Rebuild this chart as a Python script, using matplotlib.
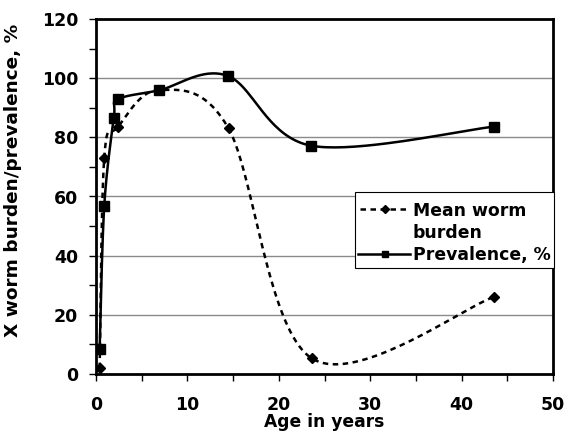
import numpy as np
import matplotlib.pyplot as plt
from matplotlib.lines import Line2D
from matplotlib.patches import Rectangle

# Values
age_burden = [0.4, 0.9, 2.4, 6.9, 14.5, 23.6, 43.5]
mean_burden = [2, 73, 83.5, 96, 83, 5.3, 26]
age_prev = [0.4, 0.9, 1.95, 2.4, 6.9, 14.4, 23.5, 43.5]
prevalence = [8.5, 56.7, 86.5, 92.8, 95.9, 100.8, 77.2, 83.6]
legend_lines = ['Mean worm', 'burden', 'Prevalence, %']

x_ticks = [0, 10, 20, 30, 40, 50]
y_ticks = [0, 20, 40, 60, 80, 100, 120]

plt.rcParams['font.family'] = ['DejaVu Sans']
plt.rcParams['font.weight'] = 'bold'

W, H = 568, 436
fig = plt.figure(figsize=(W / 100, H / 100), dpi=100)
ax = fig.add_axes([96 / W, 1 - 374 / H, 457 / W, 355 / H])
ax.set_xlim(0, 50)
ax.set_ylim(0, 120)


def smooth(xs, ys, n=40):
    # Excel-like smoothing: bezier through the points in pixel-like space
    sx, sy = 50.0 / 457, 120.0 / 355
    p = np.column_stack([np.asarray(xs) / sx, np.asarray(ys) / sy])
    p = np.vstack([p[0], p, p[-1]])
    out = []
    for i in range(1, len(p) - 2):
        p0, p1, p2, p3 = p[i - 1], p[i], p[i + 1], p[i + 2]
        c1 = p1 + (p2 - p0) / 6
        c2 = p2 - (p3 - p1) / 6
        t = np.linspace(0, 1, n)[:, None]
        seg = ((1 - t) ** 3) * p1 + 3 * ((1 - t) ** 2) * t * c1 + 3 * (1 - t) * t ** 2 * c2 + t ** 3 * p2
        out.append(seg)
    out = np.vstack(out)
    return out[:, 0] * sx, out[:, 1] * sy


bx, by = smooth(age_burden, mean_burden)
px, py = smooth(age_prev, prevalence)

for y in y_ticks[1:-1]:
    ax.axhline(y, color='#8a8a8a', lw=1, zorder=0)

dash = (0, (2.2, 1.8))
ax.plot(bx, by, color='black', lw=1.8, ls=dash, zorder=2)
ax.plot(age_burden, mean_burden, ls='none', marker='D', ms=5, color='black', zorder=3)
ax.plot(px, py, color='black', lw=1.8, zorder=2)
ax.plot(age_prev, prevalence, ls='none', marker='s', ms=7, color='black', zorder=3)

ax.set_xticks(x_ticks)
ax.set_xticks(np.arange(0, 51, 5), minor=True)
ax.set_yticks(y_ticks)
ax.set_yticks(np.arange(0, 121, 10), minor=True)
ax.tick_params(which='both', direction='out', length=5, width=1, labelsize=12.5)
ax.tick_params(axis='x', pad=11)
ax.tick_params(axis='y', pad=8)

for s in ['left', 'bottom', 'right', 'top']:
    ax.spines[s].set_linewidth(2)

ax.set_xlabel('Age in years', fontsize=12.3, fontweight='bold', labelpad=-1)
ax.set_ylabel('X worm burden/prevalence, %', fontsize=13.3, fontweight='bold')
ax.yaxis.set_label_coords(-0.163, 0.545)


# legend drawn by hand to follow the original layout
def fx(x):
    return x / W


def fy(y):
    return 1 - y / H


fig.add_artist(Rectangle((fx(355), fy(268)), fx(554) - fx(355), fy(192) - fy(268),
                         transform=fig.transFigure, facecolor='white',
                         edgecolor='black', lw=0.8, zorder=5))
fig.add_artist(Line2D([fx(360), fx(410)], [fy(209), fy(209)], transform=fig.transFigure,
                      color='black', lw=1.8, ls=dash, zorder=6))
fig.add_artist(Line2D([fx(385)], [fy(209)], transform=fig.transFigure, color='black',
                      marker='D', ms=4, ls='none', zorder=6))
fig.add_artist(Line2D([fx(358), fx(410)], [fy(254), fy(254)], transform=fig.transFigure,
                      color='black', lw=1.8, zorder=6))
fig.add_artist(Line2D([fx(385)], [fy(254)], transform=fig.transFigure, color='black',
                      marker='s', ms=5, ls='none', zorder=6))
for txt, base in zip(legend_lines, [215.7, 238.3, 260]):
    fig.text(fx(413), fy(base), txt, fontsize=12.4, fontweight='bold',
             va='baseline', ha='left', zorder=7)

fig.savefig('out.png', dpi=100)
